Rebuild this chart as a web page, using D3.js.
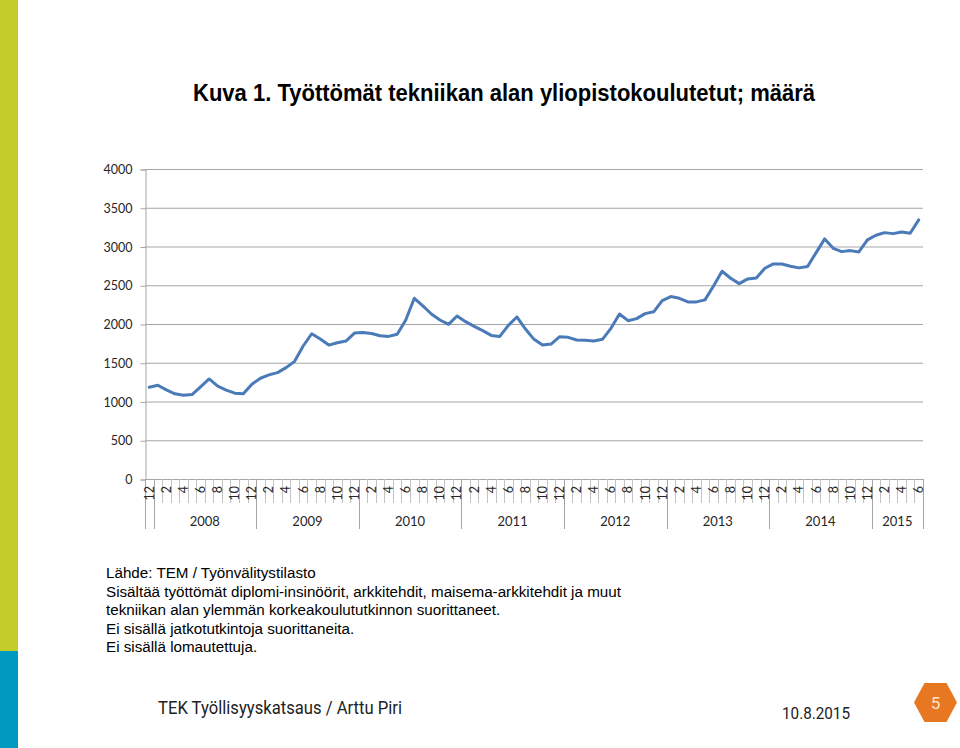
<!DOCTYPE html>
<html><head><meta charset="utf-8">
<script src="https://cdn.jsdelivr.net/npm/d3@7"></script>
<style>html,body{margin:0;padding:0;background:#fff;}svg{display:block;}</style>
</head><body>
<script>
// ---- data ----
const periods = [
 "2007-12",
 "2008-01","2008-02","2008-03","2008-04","2008-05","2008-06","2008-07","2008-08","2008-09","2008-10","2008-11","2008-12",
 "2009-01","2009-02","2009-03","2009-04","2009-05","2009-06","2009-07","2009-08","2009-09","2009-10","2009-11","2009-12",
 "2010-01","2010-02","2010-03","2010-04","2010-05","2010-06","2010-07","2010-08","2010-09","2010-10","2010-11","2010-12",
 "2011-01","2011-02","2011-03","2011-04","2011-05","2011-06","2011-07","2011-08","2011-09","2011-10","2011-11","2011-12",
 "2012-01","2012-02","2012-03","2012-04","2012-05","2012-06","2012-07","2012-08","2012-09","2012-10","2012-11","2012-12",
 "2013-01","2013-02","2013-03","2013-04","2013-05","2013-06","2013-07","2013-08","2013-09","2013-10","2013-11","2013-12",
 "2014-01","2014-02","2014-03","2014-04","2014-05","2014-06","2014-07","2014-08","2014-09","2014-10","2014-11","2014-12",
 "2015-01","2015-02","2015-03","2015-04","2015-05","2015-06"
];
const unemployed = [
 1184,
 1210,1150,1099,1081,1090,1189,1291,1197,1146,1107,1099,1223,
 1300,1343,1373,1437,1518,1716,1874,1806,1728,1758,1780,1883,
 1891,1878,1848,1840,1868,2052,2332,2233,2129,2052,1996,2103,
 2030,1970,1914,1853,1840,1983,2091,1935,1802,1728,1741,1836,
 1828,1793,1789,1780,1802,1944,2129,2043,2069,2134,2157,2302,
 2354,2332,2285,2285,2311,2491,2681,2590,2521,2582,2595,2719,
 2775,2775,2745,2724,2741,2921,3098,2977,2934,2947,2930,3085,
 3145,3179,3166,3188,3171,3343
];
const yearLabels = ["2007","2008","2009","2010","2011","2012","2013","2014","2015"];
const shownYearLabels = ["2008","2009","2010","2011","2012","2013","2014","2015"];
const yTicks = [0,500,1000,1500,2000,2500,3000,3500,4000];
const titleText = "Kuva 1. Työttömät tekniikan alan yliopistokoulutetut; määrä";
const noteLines = [
 "Lähde: TEM / Työnvälitystilasto",
 "Sisältää työttömät diplomi-insinöörit, arkkitehdit, maisema-arkkitehdit ja muut",
 "tekniikan alan ylemmän korkeakoulututkinnon suorittaneet.",
 "Ei sisällä jatkotutkintoja suorittaneita.",
 "Ei sisällä lomautettuja."
];
const footerLeft = "TEK Työllisyyskatsaus / Arttu Piri";
const footerDate = "10.8.2015";
const pageNumber = "5";

// ---- drawing ----
(function draw(){
const W = 960, H = 748;
const svg = d3.select("body").append("svg").attr("width", W).attr("height", H);

// side band
svg.append("rect").attr("x",0).attr("y",0).attr("width",18).attr("height",651).attr("fill","#c3cc2a");
svg.append("rect").attr("x",0).attr("y",651).attr("width",18).attr("height",H-651).attr("fill","#0099bf");

// title
svg.append("text").attr("x",193).attr("y",101)
  .attr("font-family","'Liberation Sans Narrow','Liberation Sans',Arial,sans-serif")
  .attr("font-weight","bold").attr("font-size",23.5).attr("fill","#000")
  .attr("textLength",622).attr("lengthAdjust","spacingAndGlyphs")
  .text(titleText);

const pLeft = 145, pRight = 923, pTop = 169, pBottom = 479;
const x = d3.scaleBand().domain(periods).range([pLeft,pRight]).padding(0);
const y = d3.scaleLinear().domain([0,4000]).range([pBottom,pTop]);

const axisFont = "Lato, 'Open Sans', sans-serif";
const axisColor = "#262626";
const axisSize = 12.5;

// gridlines
svg.append("g").selectAll("line").data(yTicks.filter(d=>d>0)).join("line")
  .attr("x1",pLeft).attr("x2",pRight).attr("y1",d=>y(d)+0.5).attr("y2",d=>y(d)+0.5)
  .attr("stroke","#a6a6a6").attr("stroke-width",1);

// y axis
const yAxis = d3.axisLeft(y).tickValues(yTicks).tickSize(5).tickPadding(8).tickFormat(d3.format("d"));
const gy = svg.append("g").attr("transform",`translate(${pLeft+0.5},0.5)`).call(yAxis);
gy.select(".domain").attr("stroke","#a6a6a6");
gy.selectAll(".tick line").attr("stroke","#a6a6a6");
gy.selectAll(".tick text").attr("font-family",axisFont).attr("font-size",axisSize).attr("fill",axisColor);

// x axis baseline
svg.append("line").attr("x1",pLeft).attr("x2",pRight).attr("y1",pBottom+0.5).attr("y2",pBottom+0.5)
  .attr("stroke","#a6a6a6");

// month tick lines at each category boundary
const boundaries = periods.map(p => x(p)).concat([pRight]);
svg.append("g").selectAll("line").data(boundaries).join("line")
  .attr("x1",d=>Math.round(d)+0.5).attr("x2",d=>Math.round(d)+0.5)
  .attr("y1",pBottom).attr("y2",503)
  .attr("stroke","#c4c4c4").attr("stroke-width",1);

// year group separators
const yearOf = p => p.slice(0,4);
const groups = yearLabels.map(yr => {
  const ps = periods.filter(p => yearOf(p) === yr);
  return {year: yr, x0: x(ps[0]), x1: x(ps[ps.length-1]) + x.bandwidth()};
});
const seps = [groups[0].x0].concat(groups.map(g => g.x1));
svg.append("g").selectAll("line").data(seps).join("line")
  .attr("x1",d=>Math.round(d)+0.5).attr("x2",d=>Math.round(d)+0.5)
  .attr("y1",pBottom).attr("y2",529)
  .attr("stroke","#a6a6a6").attr("stroke-width",1);

// month labels (every 2nd month)
const monthLabelData = periods.filter(p => +p.slice(5) % 2 === 0);
svg.append("g").selectAll("text").data(monthLabelData).join("text")
  .attr("transform", p => `translate(${x(p)+x.bandwidth()/2},486) rotate(-90)`)
  .attr("text-anchor","end").attr("dy","0.35em")
  .attr("font-family",axisFont).attr("font-size",axisSize).attr("fill",axisColor)
  .text(p => String(+p.slice(5)));

// year labels
svg.append("g").selectAll("text").data(groups.filter(g => shownYearLabels.includes(g.year))).join("text")
  .attr("x", g => (g.x0+g.x1)/2).attr("y",521).attr("dy","0.35em")
  .attr("text-anchor","middle")
  .attr("font-family",axisFont).attr("font-size",axisSize+0.5).attr("fill",axisColor)
  .text(g => g.year);

// line
const line = d3.line().x((d,i)=>x(periods[i])+x.bandwidth()/2).y(d=>y(d));
svg.append("path").datum(unemployed).attr("d",line)
  .attr("fill","none").attr("stroke","#4a7ab8").attr("stroke-width",3)
  .attr("stroke-linejoin","round").attr("stroke-linecap","round");

// notes
svg.append("g").selectAll("text").data(noteLines).join("text")
  .attr("x",106).attr("y",(d,i)=>578 + i*18.5)
  .attr("font-family","'Liberation Sans',Arial,sans-serif").attr("font-size",15.2).attr("fill","#000")
  .text(d=>d);

// footer
svg.append("text").attr("x",158).attr("y",714)
  .attr("font-family","Roboto, sans-serif").attr("font-size",18).attr("fill","#222")
  .attr("textLength",244).attr("lengthAdjust","spacingAndGlyphs")
  .text(footerLeft);
svg.append("text").attr("x",782).attr("y",719)
  .attr("font-family","Roboto, sans-serif").attr("font-size",17).attr("fill","#222")
  .attr("textLength",68).attr("lengthAdjust","spacingAndGlyphs")
  .text(footerDate);

const hx = 935.5, hy = 702.5;
const hex = [[-21.5,0],[-11,-19.5],[11,-19.5],[21.5,0],[11,19.5],[-11,19.5]];
svg.append("polygon").attr("points", hex.map(p=>[hx+p[0],hy+p[1]].join(",")).join(" "))
  .attr("fill","#e87722");
svg.append("text").attr("x",hx).attr("y",hy).attr("dy","0.36em").attr("text-anchor","middle")
  .attr("font-family","Roboto, sans-serif").attr("font-size",17).attr("fill","#fde3c6")
  .text(pageNumber);
})();
</script>
</body></html>
